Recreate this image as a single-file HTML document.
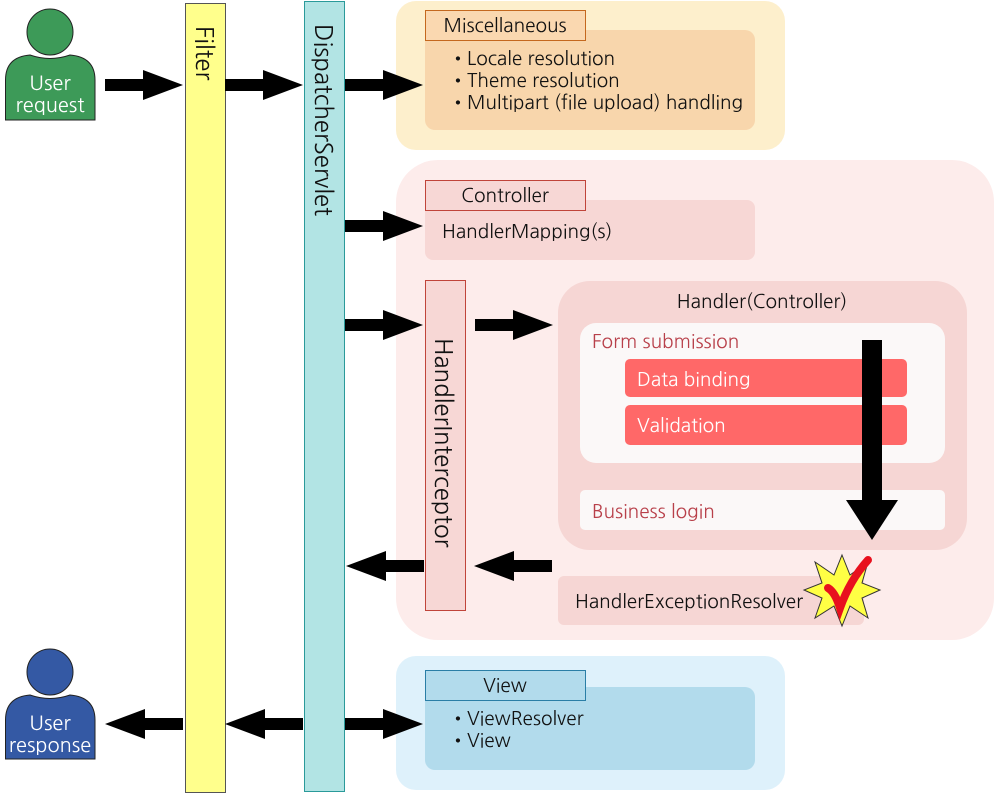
<!DOCTYPE html>
<html><head><meta charset="utf-8"><style>
html,body{margin:0;padding:0;background:#fff;width:996px;height:796px;overflow:hidden}
svg{display:block}
text{font-family:"NanumGothic","Liberation Sans",sans-serif;font-size:19px;fill:#111}
</style></head><body>
<svg width="996" height="796" viewBox="0 0 996 796" xmlns="http://www.w3.org/2000/svg">
<defs>
<path id="ar" d="M0,-6 H38 V-15 L78,0 L38,15 V6 H0 Z" fill="#000"/>
</defs>
<rect x="396" y="1" width="389" height="149" rx="20" fill="#fdefcc"/>
<rect x="425" y="30" width="330" height="100" rx="10" fill="#f8d6ac"/>
<rect x="425.5" y="10.5" width="160" height="30" fill="#fad8b0" stroke="#c4681e"/>
<text x="505" y="32" text-anchor="middle">Miscellaneous</text>
<text x="449" y="65">•</text><text x="467" y="65">Locale resolution</text>
<text x="449" y="87">•</text><text x="467" y="87">Theme resolution</text>
<text x="449" y="109">•</text><text x="467" y="109">Multipart (file upload) handling</text>

<rect x="396" y="160" width="598" height="480" rx="42" fill="#fdeceb"/>
<rect x="425" y="200" width="330" height="60" rx="8" fill="#f7d7d5"/>
<rect x="425.5" y="180.5" width="160" height="30" fill="#f7d7d5" stroke="#c0443a"/>
<text x="505" y="202" text-anchor="middle">Controller</text>
<text x="442" y="238">HandlerMapping(s)</text>

<rect x="425.5" y="280.5" width="40" height="330" fill="#f7d7d5" stroke="#c0443a"/>
<text transform="translate(435,338) rotate(90)" style="font-size:24px">HandlerInterceptor</text>

<rect x="558" y="281" width="409" height="269" rx="32" fill="#f6d6d4"/>
<text x="762" y="308" text-anchor="middle">Handler(Controller)</text>
<rect x="580" y="323" width="365" height="140" rx="16" fill="#fbf8f8"/>
<text x="592" y="348" style="fill:#b8404a">Form submission</text>
<rect x="625" y="359" width="282" height="38" rx="5" fill="#ff6868"/>
<text x="637" y="386" style="fill:#fff">Data binding</text>
<rect x="625" y="405" width="282" height="40" rx="5" fill="#ff6868"/>
<text x="637" y="432" style="fill:#fff">Validation</text>
<rect x="580" y="490" width="365" height="40" rx="5" fill="#fbf8f8"/>
<text x="592" y="518" style="fill:#b8404a">Business login</text>
<path d="M862,340 H882 V500 H898 L872,540 L846,500 H862 Z" fill="#000"/>

<rect x="558" y="576" width="306" height="49" rx="6" fill="#f6d6d4"/>
<text x="575" y="608">HandlerExceptionResolver</text>
<polygon points="842,555 850,575 868,562 862,583 880,590 862,598 868,618 850,606 842,626 834,606 815,618 822,598 804,590 822,583 815,562 834,575" fill="#ffff44" stroke="#333" stroke-width="1"/>
<path d="M828,588 Q835,592 840,608 Q850,580 868,560" fill="none" stroke="#e8101e" stroke-width="8" stroke-linecap="round"/>

<rect x="396" y="656" width="389" height="134" rx="20" fill="#def1fb"/>
<rect x="425" y="687" width="330" height="83" rx="10" fill="#b2dbec"/>
<rect x="425.5" y="670.5" width="160" height="30" fill="#b2dbec" stroke="#2a7ea6"/>
<text x="505" y="692" text-anchor="middle">View</text>
<text x="449" y="725">•</text><text x="467" y="725">ViewResolver</text>
<text x="449" y="747">•</text><text x="467" y="747">View</text>

<rect x="185.5" y="3.5" width="40" height="789" fill="#ffff8c" stroke="#555"/>
<text transform="translate(196,26) rotate(90)" style="font-size:24px">Filter</text>
<rect x="304.5" y="1.5" width="40" height="790" fill="#b2e4e4" stroke="#2a9a9a"/>
<text transform="translate(315,24) rotate(90)" style="font-size:24px">DispatcherServlet</text>

<g>
<circle cx="50" cy="32" r="23" fill="#3d9a58" stroke="#222"/>
<path d="M5.5,120 V80 Q5.5,57 30,55 Q50,62 70,55 Q95,57 95,80 V120 Z" fill="#3d9a58" stroke="#222"/>
<text x="50" y="90" text-anchor="middle" style="fill:#fff;font-size:20px">User</text>
<text x="50" y="112" text-anchor="middle" style="fill:#fff;font-size:20px">request</text>
</g>
<g>
<circle cx="50" cy="672" r="23" fill="#3459a4" stroke="#222"/>
<path d="M5.5,759 V720 Q5.5,697 30,695 Q50,702 70,695 Q95,697 95,720 V759 Z" fill="#3459a4" stroke="#222"/>
<text x="50" y="730" text-anchor="middle" style="fill:#fff;font-size:20px">User</text>
<text x="50" y="752" text-anchor="middle" style="fill:#fff;font-size:20px">response</text>
</g>

<use href="#ar" transform="translate(105,85)"/>
<use href="#ar" transform="translate(225,85)"/>
<use href="#ar" transform="translate(345,85)"/>
<use href="#ar" transform="translate(345,226)"/>
<use href="#ar" transform="translate(345,325)"/>
<use href="#ar" transform="translate(475,325)"/>
<use href="#ar" transform="translate(552,566) scale(-1,1)"/>
<use href="#ar" transform="translate(424,566) scale(-1,1)"/>
<use href="#ar" transform="translate(345,724)"/>
<use href="#ar" transform="translate(303,724) scale(-1,1)"/>
<use href="#ar" transform="translate(183,724) scale(-1,1)"/>
</svg>
</body></html>
